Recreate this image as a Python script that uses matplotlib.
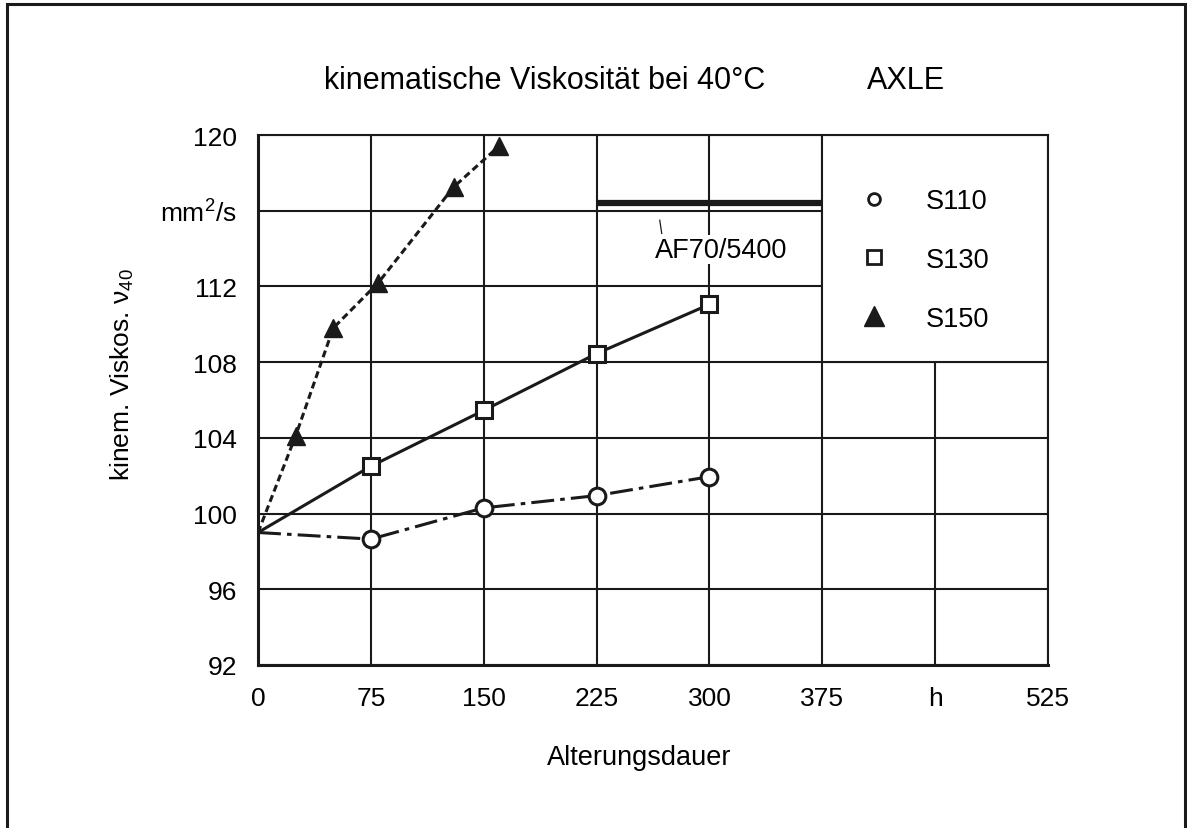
import numpy as np
import matplotlib
matplotlib.use("Agg")
import matplotlib.pyplot as plt
from matplotlib.lines import Line2D
from matplotlib.patches import Rectangle

plt.rcParams['font.family'] = ['Liberation Sans', 'DejaVu Sans']
plt.rcParams['mathtext.fontset'] = 'custom'
plt.rcParams['mathtext.rm'] = 'Liberation Sans'
plt.rcParams['mathtext.it'] = 'Liberation Sans:italic'
plt.rcParams['font.size'] = 19.5

# data
s110_x = [0, 75, 150, 225, 300]
s110_y = [99.0, 98.65, 100.3, 100.95, 101.95]

s130_x = [0, 75, 150, 225, 300]
s130_y = [99.0, 102.5, 105.45, 108.45, 111.05]

s150_x = [0, 25, 50, 80, 130, 160]
s150_y = [99.0, 104.1, 109.8, 112.2, 117.25, 119.4]

# limit value AF70/5400
limit_x = [225, 375]
limit_y = [116.4, 116.4]

x_ticks = [0, 75, 150, 225, 300, 375, 450, 525]
x_labels = ['0', '75', '150', '225', '300', '375', 'h', '525']
y_ticks = [92, 96, 100, 104, 108, 112, 116, 120]
y_labels = ['92', '96', '100', '104', '108', '112', 'mm$^2$/s', '120']

ink = '#1a1a1a'
W, H = 1187, 829

fig = plt.figure(figsize=(W / 100, H / 100), dpi=100)
ax = fig.add_axes([258 / W, 1 - 666 / H, 790 / W, 530 / H])

ax.set_xlim(0, 525)
ax.set_ylim(92, 120)
ax.set_xticks(x_ticks)
ax.set_xticklabels(x_labels)
ax.set_yticks(y_ticks)
ax.set_yticklabels(y_labels)
ax.tick_params(length=0, pad=15, labelsize=19)
ax.set_axisbelow(True)
ax.grid(True, color=ink, lw=1.5)
for sp in ax.spines.values():
    sp.set_color(ink)
    sp.set_linewidth(1.5)
ax.spines['left'].set_linewidth(2.2)
ax.spines['bottom'].set_linewidth(2.2)

# legend area blanks the grid
ax.add_patch(Rectangle((375, 108), 150, 12, facecolor='white', edgecolor=ink,
                       lw=1.5, zorder=1))

skip0 = slice(1, None)  # no marker at the common start point
ax.plot(s110_x, s110_y, color=ink, lw=2.2, ls=(0, (7.5, 2.0, 1.5, 2.0)),
        marker='o', ms=12, mfc='white', mec=ink, mew=2.2, markevery=skip0, zorder=3)
ax.plot(s130_x, s130_y, color=ink, lw=2.2, ls='-',
        marker='s', ms=11, mfc='white', mec=ink, mew=2.2, markevery=skip0, zorder=3)
ax.plot(s150_x, s150_y, color=ink, lw=2.2, ls=(0, (2.3, 1.3)),
        marker='^', ms=13, mfc=ink, mec=ink, markevery=skip0, zorder=3)

ax.plot(limit_x, limit_y, color=ink, lw=4.5, solid_capstyle='butt', zorder=3)
ax.plot([267, 268.3], [115.5, 114.8], color=ink, lw=0.9, zorder=3)
ax.text(307.5, 113.95, 'AF70/5400', ha='center', va='center', fontsize=19.5,
        bbox=dict(facecolor='white', edgecolor='none', pad=1), zorder=2)

handles = [
    Line2D([], [], ls='none', marker='o', ms=8.5, mfc='white', mec=ink, mew=2),
    Line2D([], [], ls='none', marker='s', ms=10.5, mfc='white', mec=ink, mew=2),
    Line2D([], [], ls='none', marker='^', ms=14, mfc=ink, mec=ink),
]
ax.legend(handles, ['S110', 'S130', 'S150'], loc='upper left',
          bbox_to_anchor=(391.4, 117.2), bbox_transform=ax.transData,
          frameon=False, labelspacing=1.21, handletextpad=0.9, fontsize=19.5,
          borderaxespad=0, borderpad=0)

ax.set_xlabel('Alterungsdauer', fontsize=19.5, va='center')
ax.xaxis.set_label_coords((639 - 258) / 790, -(758 - 666) / 530)
ax.set_ylabel('kinem. Viskos. ν$_{40}$', fontsize=19, va='center')
ax.yaxis.set_label_coords((122 - 258) / 790, (666 - 375) / 530)

fig.text(545 / W, 1 - 89 / H, 'kinematische Viskosität bei 40°C',
         ha='center', va='baseline', fontsize=22)
fig.text(906 / W, 1 - 89 / H, 'AXLE', ha='center', va='baseline', fontsize=22)

# outer frame
fig.add_artist(Rectangle((7 / W, -0.02), (1185 - 7) / W, 1.02 - 5 / H,
                         transform=fig.transFigure, facecolor='none',
                         edgecolor=ink, lw=2.2))

fig.savefig('out.png', dpi=100)
